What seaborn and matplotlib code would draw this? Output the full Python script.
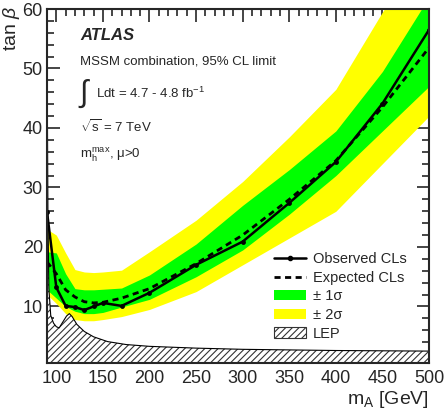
import numpy as np
import pandas as pd
import matplotlib
matplotlib.use("Agg")
import matplotlib.pyplot as plt
import seaborn as sns
from matplotlib.lines import Line2D
from matplotlib.patches import Patch
from matplotlib.ticker import MultipleLocator

# ---- data ----
mA = [90, 100, 110, 120, 130, 140, 150, 170, 200, 250, 300, 350, 400, 450, 500]
observed = [25.9, 13.2, 10.1, 9.9, 9.4, 10.0, 10.6, 10.1, 12.3, 17.0, 20.9, 27.4, 34.3, 44.1, 56.5]
expected = [17.5, 15.5, 12.8, 11.6, 10.8, 10.6, 10.7, 11.4, 13.0, 17.2, 22.0, 28.0, 34.5, 43.5, 53.5]
sig1_lo = [12.8, 11.4, 10.0, 9.2, 8.8, 8.8, 9.0, 9.9, 11.2, 15.0, 19.5, 25.5, 32.0, 39.5, 47.0]
sig1_hi = [19.2, 19.0, 15.5, 13.0, 12.8, 12.8, 12.9, 13.1, 15.3, 20.5, 27.0, 33.0, 39.5, 49.5, 62.0]
sig2_lo = [12.0, 10.5, 8.8, 7.8, 7.6, 7.6, 7.8, 8.3, 9.5, 12.5, 17.0, 21.5, 26.0, 34.0, 42.0]
sig2_hi = [23.0, 22.0, 19.0, 16.2, 15.8, 15.7, 15.8, 16.1, 19.2, 24.5, 31.0, 38.5, 46.5, 59.5, 71.0]

lep_mA = [90, 90.5, 91, 92, 94, 97, 100, 103, 107, 111, 114, 117, 122, 130, 140, 155, 175, 200, 250, 300, 400, 500]
lep_tanb = [50, 40, 25, 13, 8.5, 7.2, 6.6, 6.4, 7.4, 8.4, 8.8, 8.3, 7.0, 5.8, 4.9, 4.1, 3.6, 3.3, 3.0, 2.8, 2.6, 2.5]

x_ticks = [100, 150, 200, 250, 300, 350, 400, 450, 500]
y_ticks = [10, 20, 30, 40, 50, 60]

df = pd.DataFrame({"mA": mA, "obs": observed, "exp": expected})

sns.set_style("ticks")
plt.rcParams["font.family"] = ["Liberation Sans", "DejaVu Sans"]
plt.rcParams["mathtext.fontset"] = "custom"
plt.rcParams["mathtext.rm"] = "Liberation Sans"
plt.rcParams["mathtext.it"] = "Liberation Sans:italic"
plt.rcParams["hatch.linewidth"] = 0.8
plt.rcParams["hatch.color"] = "#333333"

fig = plt.figure(figsize=(4.45, 4.18), dpi=100)
ax = fig.add_axes([47/445, 1-363/418, 382/445, 354/418])

YMIN = 0.5
ax.fill_between(mA, sig2_lo, sig2_hi, color="#FFFF00", lw=0, zorder=1)
ax.fill_between(mA, sig1_lo, sig1_hi, color="#00FF00", lw=0, zorder=2)
ax.fill_between(lep_mA, YMIN, lep_tanb, facecolor="white", edgecolor="#333333",
                hatch="/////", lw=0, zorder=3)
ax.plot(lep_mA, lep_tanb, color="black", lw=0.8, zorder=4)

sns.lineplot(data=df, x="mA", y="exp", ax=ax, color="black", lw=2.0,
             linestyle=(0, (2.2, 1.6)), zorder=5)
sns.lineplot(data=df, x="mA", y="obs", ax=ax, color="black", lw=1.8,
             marker="o", markersize=3.5, markeredgewidth=0, zorder=6)

ax.set_xlim(90, 500)
ax.set_ylim(YMIN, 60)
ax.set_xlabel("")
ax.set_ylabel("")
ax.set_xticks(x_ticks)
ax.set_yticks(y_ticks)
ax.xaxis.set_minor_locator(MultipleLocator(10))
ax.yaxis.set_minor_locator(MultipleLocator(2))
ax.tick_params(which="both", direction="in", top=True, right=True, labelsize=13, width=1.2)
ax.tick_params(which="major", length=9)
ax.tick_params(which="minor", length=5)
ax.tick_params(axis="x", pad=5)
ax.tick_params(axis="y", pad=3)
for s in ax.spines.values():
    s.set_linewidth(1.5)
    s.set_zorder(10)

# labels
fig.text(429/445, 1-400/418, r"m$_{\mathregular{A}}$ [GeV]", ha="right", va="center", fontsize=14)
fig.text(11/445, 1-28/418, r"tan $\beta$", rotation=90, ha="center", va="center", fontsize=14)

# annotations (axes coordinates)
fx = lambda px: (px-47)/382
fy = lambda py: 1-(py-9)/354
tk = dict(transform=ax.transAxes, va="center", zorder=11)
ax.text(fx(80), fy(35), "ATLAS", fontsize=12, fontweight="bold", style="italic", **tk)
ax.text(fx(80), fy(62), "MSSM combination, 95% CL limit", fontsize=9.5, **tk)
ax.text(fx(79), fy(94), "\u222b", fontsize=22, **tk)
ax.text(fx(96), fy(93), r"Ldt = 4.7 - 4.8 fb$^{\mathregular{-1}}$", fontsize=9.5, **tk)
ax.text(fx(80), fy(127), r"$\sqrt{\mathregular{s}}$ = 7 TeV", fontsize=9.5, **tk)
ax.text(fx(80), fy(155), r"m$_{\mathregular{h}}^{\mathregular{max}}$, $\mathregular{\mu}$>0", fontsize=9.5, **tk)

handles = [
    Line2D([], [], color="black", lw=1.8, marker="o", markersize=3, markevery=[1]),
    Line2D([], [], color="black", lw=2.0, linestyle=(0, (2.2, 1.6))),
    Patch(facecolor="#00FF00", edgecolor="none"),
    Patch(facecolor="#FFFF00", edgecolor="none"),
    Patch(facecolor="white", edgecolor="#333333", hatch="/////", lw=0.8),
]
labels = ["Observed CLs", "Expected CLs", "\u00b1 1\u03c3", "\u00b1 2\u03c3", "LEP"]
leg = ax.legend(handles, labels, loc="upper left", bbox_to_anchor=(fx(274), fy(252)),
                frameon=False, fontsize=10.5, borderpad=0, borderaxespad=0,
                handlelength=2.2, handletextpad=0.45, labelspacing=0.32)
leg.set_zorder(12)

fig.savefig("out.png", dpi=100)
